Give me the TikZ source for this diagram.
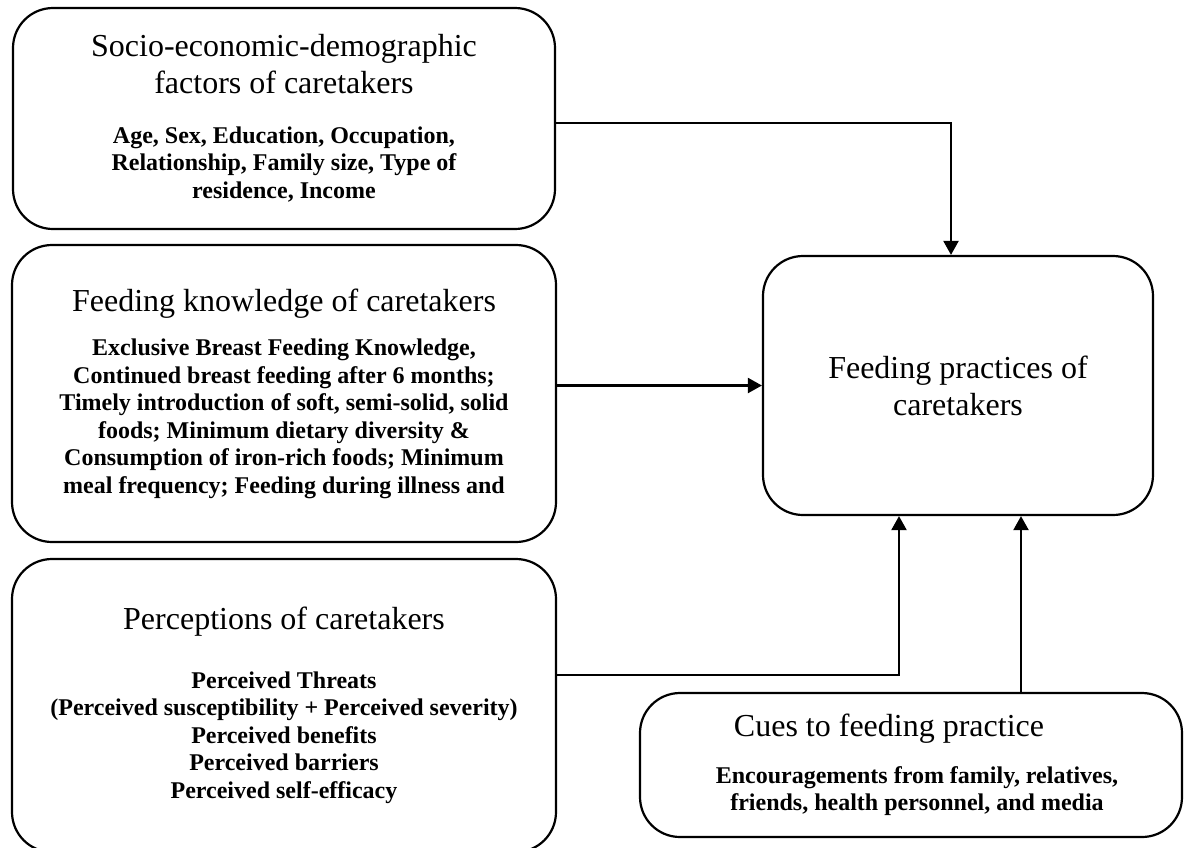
\documentclass[tikz,border=0pt]{standalone}
\usepackage{fontspec}
\setmainfont{Liberation Serif}
\usetikzlibrary{arrows.meta}

\newcommand{\headfont}{\fontsize{32}{37}\selectfont}
\newcommand{\itemfont}{\fontsize{24}{27.5}\selectfont\bfseries}

\tikzset{
  factor/.style={draw, line width=2.2pt, rounded corners=40pt, align=flush center,
    inner sep=0pt, font=\headfont},
  link/.style={-{Triangle[length=14pt,width=15pt]}, line width=2.2pt},
}

\begin{document}
\begin{tikzpicture}[x=1pt, y=-1pt]
    \useasboundingbox (0,0) rectangle (1184,847);

    \node[factor, text width=542pt, minimum height=221pt] (soc) at (284,118.5)
      {Socio-economic-demographic\\factors of caretakers\par
       \vspace{22pt}\itemfont Age, Sex, Education, Occupation,\\
       Relationship, Family size, Type of\\residence, Income\par};
    \node[factor, text width=544pt, minimum height=297pt] (know) at (284,393.5)
      {Feeding knowledge of caretakers\par
       \vspace{17pt}\itemfont Exclusive Breast Feeding Knowledge,\\
       Continued breast feeding after 6 months;\\
       Timely introduction of soft, semi-solid, solid\\
       foods; Minimum dietary diversity \&\\
       Consumption of iron-rich foods; Minimum\\
       meal frequency; Feeding during illness and\par};
    \node[factor, text width=544pt, minimum height=293pt] (perc) at (284,705.5)
      {Perceptions of caretakers\par
       \vspace{31pt}\itemfont Perceived Threats\\
       (Perceived susceptibility + Perceived severity)\\
       Perceived benefits\\Perceived barriers\\Perceived self-efficacy\par};

    \node[factor, text width=390pt, minimum height=259pt] (prac) at (958,385.5)
      {Feeding practices of\\caretakers};
    \node[factor, text width=542pt, minimum height=144pt] (cue) at (911,765)
      {Cues to feeding practice\hspace*{44pt}\par
       \vspace{19pt}\itemfont\hspace*{12pt}Encouragements from family, relatives,\\
       \hspace*{12pt}friends, health personnel, and media\par};

    \draw[link] ([yshift=-4.5pt]soc.east) -| ([xshift=-7pt]prac.north);
    \draw[link] (know.east |- prac.west) -- (prac.west);
    \draw[link] ([yshift=30.5pt]perc.east) -| ([xshift=-59pt]prac.south);
    \draw[link] ([xshift=110pt]cue.north) -- ([xshift=63pt]prac.south);
\end{tikzpicture}
\end{document}
